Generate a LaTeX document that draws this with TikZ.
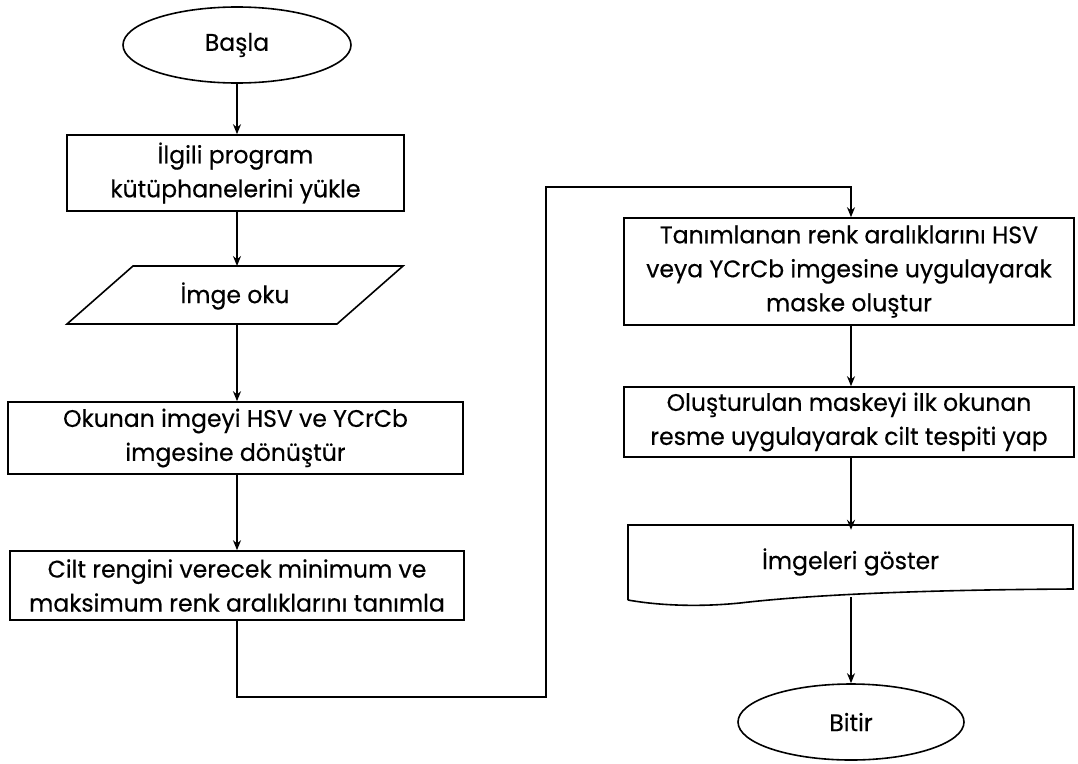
\documentclass[tikz,border=0pt]{standalone}
\usepackage{fontspec}
\setmainfont{Poppins}[FakeStretch=0.98,FakeBold=0.35]
\usetikzlibrary{shapes.geometric,arrows.meta}
\begin{document}
\begin{tikzpicture}[x=1pt,y=-1pt,
  every node/.style={font=\fontsize{24}{34}\selectfont, align=center, inner sep=0pt},
  box/.style={draw, line width=1.6pt, rectangle},
  term/.style={draw, line width=1.6pt, ellipse},
  plain/.style={rectangle},
  arr/.style={line width=1.7pt, -{Stealth[length=10pt,width=8pt]}}]
\path[use as bounding box] (0,0) rectangle (1078,763);
\node[term, minimum width=228pt, minimum height=76pt] (start) at (237,45) {Başla};
\node[box, minimum width=337pt, minimum height=76pt] (lib) at (235.5,173) {İlgili program\\kütüphanelerini yükle};
\node[plain, minimum width=336pt, minimum height=58pt] (read) at (235,296) {İmge oku};
\draw[line width=1.6pt] (133,266) -- (403,266) -- (337,324) -- (67,324) -- cycle;
\node[box, minimum width=455pt, minimum height=72pt] (conv) at (235.5,438) {Okunan imgeyi HSV ve YCrCb\\imgesine dönüştür};
\node[box, minimum width=454pt, minimum height=69pt] (range) at (237,585.5) {Cilt rengini verecek minimum ve\\maksimum renk aralıklarını tanımla};
\node[box, minimum width=450pt, minimum height=107pt] (mask) at (849,271.5) {Tanımlanan renk aralıklarını HSV\\veya YCrCb imgesine uygulayarak\\maske oluştur};
\node[box, minimum width=450pt, minimum height=70pt] (apply) at (849,422) {Oluşturulan maskeyi ilk okunan\\resme uygulayarak cilt tespiti yap};
\node[plain, minimum width=445pt, minimum height=64pt] (show) at (850.5,562) {İmgeleri göster};
\draw[line width=1.6pt] (628,600) -- (628,525) -- (1073,525) -- (1073,589) .. controls (900,590) and (800,596) .. (740,603) .. controls (690,608) and (650,604) .. (628,600);
\node[term, minimum width=226pt, minimum height=76pt] (end) at (851,722) {Bitir};
\coordinate (docb) at (851,597);
\coordinate (j1) at (546,697);
\coordinate (j2) at (546,187);
\draw[arr] (237,83) -- (lib.north -| 237,0);
\draw[arr] (237,211) -- (237,266);
\draw[arr] (237,324) -- (conv.north -| 237,0);
\draw[arr] (237,474) -- (range.north);
\draw[arr] (range.south) |- (j1) -- (j2) -| (mask.north -| 851,0);
\draw[arr] (851,325) -- (apply.north -| 851,0);
\draw[arr] (851,457) -- (show.north -| 851,0);
\draw[arr] (docb) -- (end.north);
\end{tikzpicture}
\end{document}
